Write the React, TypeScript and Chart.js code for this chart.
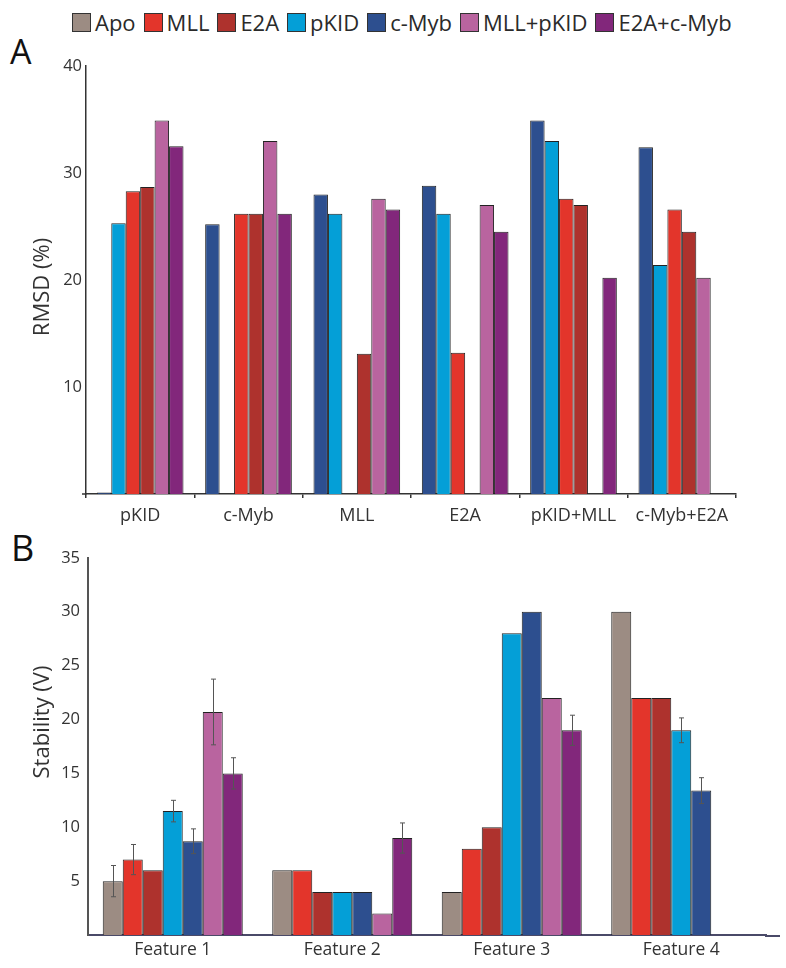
import React, { useEffect, useRef } from "react";
import { Chart, registerables } from "chart.js";

Chart.register(...registerables);

// ---------- shared ----------
const FONT = "'Open Sans', 'Noto Sans', sans-serif";
const legendLabels = ["Apo", "MLL", "E2A", "pKID", "c-Myb", "MLL+pKID", "E2A+c-Myb"];
const legendColors = ["#9c8c83", "#e3352b", "#ae322d", "#049fd7", "#2d4f8f", "#b9649f", "#82277b"];
const colorOf: Record<string, string> = {};
legendLabels.forEach((l, i) => (colorOf[l] = legendColors[i]));

// ---------- panel A ----------
const catsA = ["pKID", "c-Myb", "MLL", "E2A", "pKID+MLL", "c-Myb+E2A"];
const seriesA = ["c-Myb", "pKID", "MLL", "E2A", "MLL+pKID", "E2A+c-Myb"];
const aCMyb = [0.15, 25.2, 28.0, 28.8, 34.9, 32.4];
const aPKID = [25.3, null, 26.2, 26.2, 33.0, 21.4];
const aMLL = [28.3, 26.2, null, 13.2, 27.6, 26.6];
const aE2A = [28.7, 26.2, 13.1, null, 27.0, 24.5];
const aMLLpKID = [34.9, 33.0, 27.6, 27.0, null, 20.2];
const aE2AcMyb = [32.5, 26.2, 26.6, 24.5, 20.2, null];
const valuesA = [aCMyb, aPKID, aMLL, aE2A, aMLLpKID, aE2AcMyb];
const ticksA = [10, 20, 30, 40];

// ---------- panel B ----------
const catsB = ["Feature 1", "Feature 2", "Feature 3", "Feature 4"];
const seriesB = ["Apo", "MLL", "E2A", "pKID", "c-Myb", "MLL+pKID", "E2A+c-Myb"];
const bApo = [5.0, 6.0, 4.0, 30.0];
const bMLL = [7.0, 6.0, 8.0, 22.0];
const bE2A = [6.0, 4.0, 10.0, 22.0];
const bPKID = [11.5, 4.0, 28.0, 19.0];
const bCMyb = [8.7, 4.0, 30.0, 13.4];
const bMLLpKID = [20.7, 2.0, 22.0, null];
const bE2AcMyb = [15.0, 9.0, 19.0, null];
const valuesB = [bApo, bMLL, bE2A, bPKID, bCMyb, bMLLpKID, bE2AcMyb];
const errApo = [1.45, null, null, null];
const errMLL = [1.4, null, null, null];
const errE2A = [null, null, null, null];
const errPKID = [1.0, null, null, 1.15];
const errCMyb = [1.15, null, null, 1.2];
const errMLLpKID = [3.05, null, null, null];
const errE2AcMyb = [1.45, 1.4, 1.4, null];
const errorsB = [errApo, errMLL, errE2A, errPKID, errCMyb, errMLLpKID, errE2AcMyb];
const ticksB = [5, 10, 15, 20, 25, 30, 35];

const errorBarPlugin = {
  id: "errorBars",
  afterDatasetsDraw(chart: any) {
    const ctx = chart.ctx;
    const y = chart.scales.y;
    ctx.save();
    ctx.strokeStyle = "#555";
    ctx.lineWidth = 1;
    chart.data.datasets.forEach((ds: any, i: number) => {
      const errs = errorsB[i];
      const meta = chart.getDatasetMeta(i);
      meta.data.forEach((el: any, j: number) => {
        const e = errs[j];
        const v = ds.data[j];
        if (e == null || v == null) return;
        const x = Math.round(el.x) + 0.5;
        const yt = y.getPixelForValue(v + e);
        const yb = y.getPixelForValue(v - e);
        ctx.beginPath();
        ctx.moveTo(x, yt);
        ctx.lineTo(x, yb);
        ctx.moveTo(x - 2.5, yt);
        ctx.lineTo(x + 2.5, yt);
        ctx.moveTo(x - 2.5, yb);
        ctx.lineTo(x + 2.5, yb);
        ctx.stroke();
      });
    });
    ctx.restore();
  },
};

const axisExtendPlugin = {
  id: "axisExtend",
  afterDraw(chart: any) {
    const ctx = chart.ctx;
    const { right, bottom } = chart.chartArea;
    ctx.save();
    ctx.strokeStyle = "#4a4a68";
    ctx.lineWidth = 2;
    ctx.beginPath();
    ctx.moveTo(right - 1, bottom + 1);
    ctx.lineTo(780, bottom + 1);
    ctx.stroke();
    ctx.restore();
  },
};

const axisStubPlugin = {
  id: "axisStub",
  afterDraw(chart: any) {
    const ctx = chart.ctx;
    const { left, bottom } = chart.chartArea;
    ctx.save();
    ctx.strokeStyle = "#333";
    ctx.lineWidth = 1.5;
    ctx.beginPath();
    ctx.moveTo(left - 4, bottom);
    ctx.lineTo(left, bottom);
    ctx.stroke();
    ctx.restore();
  },
};

function ChartA() {
  const ref = useRef<HTMLCanvasElement>(null);
  useEffect(() => {
    const chart = new Chart(ref.current!, {
      type: "bar",
      data: {
        labels: catsA,
        datasets: seriesA.map((s, i) => ({
          label: s,
          data: valuesA[i],
          backgroundColor: colorOf[s],
          borderColor: "#222",
          borderWidth: 1,
          categoryPercentage: 0.8,
          barPercentage: 1.0,
        })),
      },
      plugins: [axisStubPlugin],
      options: {
        animation: false,
        responsive: false,
        layout: { padding: { left: 0, right: 50, top: 16, bottom: 6 } },
        plugins: { legend: { display: false }, tooltip: { enabled: false } },
        scales: {
          x: {
            afterFit: (s: any) => { s.height = 40; },
            grid: { offset: true, drawOnChartArea: false, drawTicks: true, tickLength: 4, color: "#333", lineWidth: 1.5 },
            border: { color: "#333", width: 1.5 },
            ticks: { font: { family: FONT, size: 18 }, color: "#333", padding: 7 },
          },
          y: {
            min: 0,
            max: 40,
            afterFit: (s: any) => { s.width = 86; },
            afterBuildTicks: (s: any) => { s.ticks = ticksA.map((v) => ({ value: v })); },
            grid: { display: false, drawTicks: false },
            border: { color: "#333", width: 1.5 },
            ticks: { font: { family: FONT, size: 16.5 }, color: "#333", padding: 4 },
          },
        },
      },
    });
    return () => chart.destroy();
  }, []);
  return <canvas ref={ref} width={786} height={490} style={{ width: 786, height: 490, display: "block" }} />;
}

function ChartB() {
  const ref = useRef<HTMLCanvasElement>(null);
  useEffect(() => {
    const chart = new Chart(ref.current!, {
      type: "bar",
      data: {
        labels: catsB,
        datasets: seriesB.map((s, i) => ({
          label: s,
          data: valuesB[i],
          backgroundColor: colorOf[s],
          borderColor: "#222",
          borderWidth: 1,
          categoryPercentage: 0.826,
          barPercentage: 1.0,
        })),
      },
      plugins: [errorBarPlugin, axisExtendPlugin],
      options: {
        animation: false,
        responsive: false,
        layout: { padding: { left: 0, right: 20, top: 16, bottom: 5 } },
        plugins: { legend: { display: false }, tooltip: { enabled: false } },
        scales: {
          x: {
            afterFit: (s: any) => { s.height = 28; },
            grid: { display: false, drawTicks: false },
            border: { color: "#4a4a68", width: 2 },
            ticks: { font: { family: FONT, size: 17.5 }, color: "#333", padding: 5 },
          },
          y: {
            min: 0,
            max: 35,
            afterFit: (s: any) => { s.width = 88; },
            afterBuildTicks: (s: any) => { s.ticks = ticksB.map((v) => ({ value: v })); },
            grid: { display: false, drawTicks: false },
            border: { color: "#555", width: 2 },
            ticks: { font: { family: FONT, size: 16.5 }, color: "#333", padding: 8 },
          },
        },
      },
    });
    return () => chart.destroy();
  }, []);
  return <canvas ref={ref} width={786} height={428} style={{ width: 786, height: 428, display: "block" }} />;
}

const rotTitle = (cx: number, cy: number): React.CSSProperties => ({
  position: "absolute",
  left: cx,
  top: cy,
  transform: "translate(-50%, -50%) rotate(-90deg)",
  whiteSpace: "nowrap",
  fontSize: 22,
  color: "#333",
  lineHeight: 1,
});

export default function App() {
  return (
    <div style={{ position: "absolute", left: 0, top: 0, width: 786, height: 968, background: "#fff", fontFamily: FONT, overflow: "hidden" }}>
      <div style={{ position: "absolute", left: 72, top: 11, display: "flex", alignItems: "center", gap: 8, fontSize: 22, color: "#2a2a2a", lineHeight: 1 }}>
        {legendLabels.map((l, i) => (
          <div key={l} style={{ display: "flex", alignItems: "center" }}>
            <span style={{ display: "inline-block", width: 17, height: 17, background: legendColors[i], border: "1px solid #333", marginRight: 4 }} />
            <span>{l}</span>
          </div>
        ))}
      </div>
      <div style={{ position: "absolute", left: 10, top: 34, fontSize: 34, lineHeight: 1, color: "#111" }}>A</div>
      <div style={{ position: "absolute", left: 11, top: 530, fontSize: 36, lineHeight: 1, color: "#111" }}>B</div>
      <div style={{ position: "absolute", left: 0, top: 50 }}><ChartA /></div>
      <div style={{ position: "absolute", left: 0, top: 540 }}><ChartB /></div>
      <div style={rotTitle(40, 287)}>RMSD (%)</div>
      <div style={rotTitle(40, 722)}>Stability (V)</div>
    </div>
  );
}
